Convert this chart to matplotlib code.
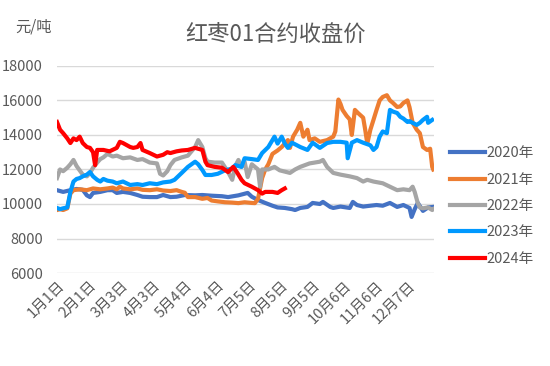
import matplotlib
matplotlib.use("Agg")
import matplotlib.pyplot as plt

plt.rcParams['font.family'] = ['Noto Sans CJK SC', 'DejaVu Sans']

# day index (0 = 1月1日) and close price
d2020 = [0, 6, 13, 19, 25, 29, 32, 35, 42, 49, 54, 58, 64, 71, 78, 83, 90, 97, 103, 110,
         116, 124, 134, 141, 150, 160, 166, 176, 185, 189, 195, 202, 209, 214, 221, 228, 231,
         236, 243, 248, 255, 258, 265, 268, 275, 284, 287, 291, 297, 304, 310, 316, 323, 330,
         336, 342, 344, 347, 350, 355, 360, 365]
v2020 = [10800, 10700, 10800, 10870, 10820, 10500, 10400, 10640, 10700, 10800, 10800, 10640,
         10700, 10640, 10520, 10420, 10400, 10400, 10520, 10400, 10420, 10520, 10500, 10520,
         10480, 10450, 10400, 10500, 10640, 10420, 10230, 10060, 9900, 9800, 9770, 9700, 9650,
         9770, 9830, 10060, 10000, 10120, 9830, 9770, 9850, 9770, 10120, 9940, 9850, 9900,
         9940, 9900, 10060, 9830, 9940, 9770, 9250, 9700, 10060, 9600, 9800, 9830]

d2021 = [0, 3, 6, 10, 13, 16, 22, 29, 35, 42, 49, 54, 58, 61, 64, 71, 78, 83, 90, 97, 103,
         110, 116, 121, 124, 127, 134, 141, 146, 150, 156, 163, 170, 176, 182, 189, 192, 195,
         197, 199, 202, 205, 209, 214, 218, 221, 224, 226, 229, 233, 236, 239, 243, 245, 250,
         255, 262, 268, 270, 273, 275, 277, 281, 284, 286, 289, 292, 297, 299, 301, 304, 307,
         310, 313, 316, 320, 323, 326, 330, 333, 336, 340, 342, 345, 349, 352, 355, 359, 362,
         364, 365]
v2021 = [9650, 9700, 9650, 9750, 10600, 10800, 10850, 10800, 10900, 10850, 10900, 10950,
         10850, 11000, 10900, 10850, 10900, 10820, 10800, 10850, 10780, 10750, 10800, 10700,
         10650, 10400, 10400, 10300, 10350, 10200, 10150, 10100, 10080, 10050, 10100, 10060,
         10050, 10300, 10900, 11500, 12000, 12300, 12900, 13100, 13300, 13500, 13700, 13250,
         13900, 14300, 14700, 13900, 14300, 13700, 13800, 13600, 13700, 13900, 14200, 16050,
         15800, 15450, 15100, 14900, 14000, 15450, 15270, 15000, 14300, 13500, 14300, 14870,
         15450, 16000, 16200, 16300, 16000, 15850, 15620, 15650, 15850, 16000, 15600, 14700,
         14300, 14100, 13300, 13130, 13200, 12150, 12000]

d2022 = [0, 3, 6, 10, 13, 16, 19, 22, 25, 29, 32, 35, 39, 42, 45, 49, 54, 58, 64, 71, 78,
         83, 90, 97, 100, 103, 107, 110, 114, 121, 127, 134, 137, 141, 144, 146, 153, 160, 166,
         170, 173, 176, 179, 182, 185, 189, 192, 195, 197, 199, 205, 211, 216, 226, 231, 236,
         245, 255, 258, 262, 268, 275, 284, 291, 297, 301, 307, 316, 323, 330, 336, 342, 345,
         347, 350, 352, 355, 360, 364, 365]
v2022 = [11500, 12000, 11900, 12100, 12300, 12550, 12200, 11950, 11700, 11600, 11800, 12100,
         12400, 12600, 12700, 12900, 12750, 12800, 12650, 12700, 12550, 12600, 12400, 12350,
         11750, 11650, 11900, 12250, 12550, 12700, 12800, 13300, 13700, 13300, 12650, 12450,
         12400, 12400, 11850, 11400, 12200, 12550, 12150, 12450, 11560, 12300, 12150, 12000,
         11000, 12000, 12000, 12150, 11950, 11800, 12000, 12150, 12350, 12450, 12550, 12150,
         11800, 11700, 11600, 11500, 11300, 11400, 11300, 11200, 11000, 10800, 10850, 10800,
         11000, 10700, 10050, 9800, 9750, 9800, 9650, 9700]

d2023 = [0, 3, 6, 10, 13, 16, 19, 22, 25, 29, 32, 35, 39, 42, 45, 49, 54, 58, 64, 71, 78,
         83, 90, 97, 103, 110, 114, 121, 127, 134, 137, 141, 144, 150, 156, 163, 170, 173, 179,
         182, 189, 195, 199, 205, 211, 214, 218, 221, 224, 228, 236, 243, 248, 255, 262, 268,
         275, 281, 282, 286, 291, 297, 304, 307, 310, 313, 316, 320, 323, 326, 330, 333, 336,
         340, 342, 345, 349, 352, 355, 359, 360, 364]
v2023 = [9770, 9700, 9750, 9800, 10700, 11300, 11450, 11500, 11600, 11700, 11850, 11600,
         11400, 11300, 11450, 11350, 11300, 11200, 11300, 11100, 11150, 11100, 11200, 11150,
         11250, 11300, 11400, 11800, 12150, 12450, 12300, 11970, 11680, 11680, 11750, 11950,
         12050, 12250, 12150, 12650, 12600, 12550, 12950, 13300, 13900, 13500, 13900, 13500,
         13250, 13550, 13300, 13130, 13550, 13250, 13530, 13600, 13600, 13550, 12650, 13550,
         13700, 13550, 13400, 13130, 13300, 13900, 14200, 14100, 15450, 15350, 15270, 15050,
         14950, 14750, 14800, 14700, 14580, 14700, 14870, 15050, 14700, 14870]

d2024 = [0, 3, 6, 10, 13, 16, 19, 22, 25, 29, 32, 35, 37, 39, 45, 51, 58, 61, 64, 71, 74,
         78, 81, 83, 90, 97, 103, 107, 110, 116, 121, 127, 134, 141, 144, 146, 153, 160, 166,
         171, 175, 179, 182, 189, 195, 199, 202, 209, 214, 218, 221]
v2024 = [14750, 14300, 14100, 13800, 13530, 13800, 13700, 13900, 13530, 13300, 13250, 13000,
         12250, 13130, 13130, 13050, 13250, 13600, 13530, 13300, 13250, 13300, 13530, 13130,
         12950, 12750, 12850, 13000, 12950, 13050, 13100, 13130, 13250, 13130, 12450, 12250,
         12150, 12100, 11850, 12150, 11800, 11400, 11200, 11000, 10800, 10600, 10700, 10700,
         10640, 10800, 10900]

tick_days = [0, 31, 62, 93, 124, 155, 186, 217, 248, 279, 310, 341]
tick_labels = ["1月1日", "2月1日", "3月3日", "4月3日", "5月4日", "6月4日", "7月5日",
               "8月5日", "9月5日", "10月6日", "11月6日", "12月7日"]

series = [("2020年", d2020, v2020, "#4472C4"),
          ("2021年", d2021, v2021, "#ED7D31"),
          ("2022年", d2022, v2022, "#A5A5A5"),
          ("2023年", d2023, v2023, "#0099FF"),
          ("2024年", d2024, v2024, "#FF0000")]

txt = "#595959"
fig = plt.figure(figsize=(5.5, 3.66), dpi=100)
ax = fig.add_axes([0.1036, 0.254, 0.686, 0.566])

for name, d, v, c in series:
    ax.plot(d, v, color=c, lw=3, label=name, solid_joinstyle="round")

ax.set_xlim(0, 366)
ax.set_ylim(6000, 18000)
ax.set_yticks(range(6000, 18001, 2000))
ax.set_xticks(tick_days)
ax.set_xticklabels(tick_labels, rotation=45, ha="right", rotation_mode="anchor")
ax.tick_params(axis="both", length=0, colors=txt, labelsize=10.5)
ax.tick_params(axis="x", pad=4)
ax.tick_params(axis="y", pad=10)
ax.grid(axis="y", color="#D9D9D9", lw=1)
ax.set_axisbelow(True)
for s in ax.spines.values():
    s.set_visible(False)

fig.text(0.5, 0.905, "红枣01合约收盘价", ha="center", va="center", fontsize=16, color=txt)
fig.text(0.027, 0.925, "元/吨", ha="left", va="center", fontsize=11, color=txt)

leg = fig.legend(loc="center left", bbox_to_anchor=(0.795, 0.437), frameon=False,
                 fontsize=10.5, handlelength=2.4, handletextpad=0.1, labelspacing=0.85)
for t in leg.get_texts():
    t.set_color(txt)

fig.savefig("out.png", dpi=100)
